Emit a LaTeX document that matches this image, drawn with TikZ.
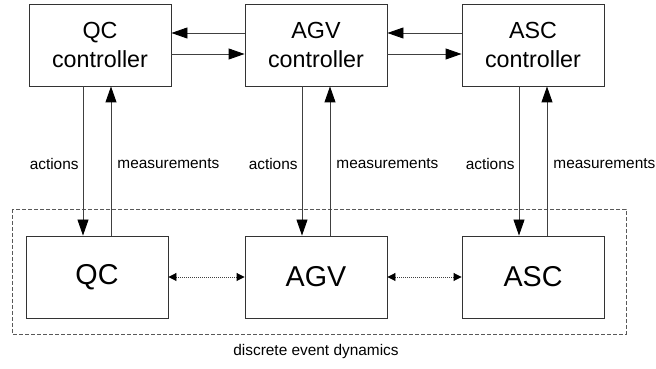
\documentclass[tikz,border=0pt]{standalone}
\usepackage{fontspec}
\setmainfont{Liberation Sans}
\usetikzlibrary{arrows.meta}

\tikzset{
	ctrl/.style={draw=black!80, line width=0.9pt, minimum width=142pt, minimum height=82pt,
		align=center, inner sep=0pt, font=\fontsize{23.3}{29}\selectfont},
	plant/.style={draw=black!80, line width=0.9pt, minimum width=142pt, minimum height=82pt,
		inner sep=0pt, font=\fontsize{28.7}{34}\selectfont},
	sig/.style={draw=black!75, line width=0.9pt, -{Triangle[length=16pt,width=11pt,color=black]}},
	link/.style={draw=black!75, line width=0.9pt, dash pattern=on 1pt off 1pt,
		{Triangle[length=8pt,width=8pt,color=black]}-{Triangle[length=8pt,width=8pt,color=black]}},
	lbl/.style={font=\fontsize{15.4}{18}\selectfont, inner sep=0pt}
}

\begin{document}
\begin{tikzpicture}[x=1pt, y=1pt]

	\useasboundingbox (0,0) rectangle (656,369);

	% controllers
	\node[ctrl] (qcc) at (100, 324) {QC\\controller};
	\node[ctrl] (agvc) at (316, 324) {AGV\\controller};
	\node[ctrl] (ascc) at (533, 324) {ASC\\controller};

	% equipment
	\node[plant] (qc) at (97, 92) {QC};
	\node[plant] (agv) at (316, 92) {AGV};
	\node[plant] (asc) at (533, 92) {ASC};

	% plant boundary
	\draw[black!65, line width=0.8pt, dash pattern=on 4pt off 2pt] (12, 160) rectangle (626, 35);
	\node[lbl] (dyn) at (316, 17) {discrete event dynamics};

	% controller coordination
	\draw[sig] ([yshift=12pt]agvc.west) -- ([yshift=12pt]qcc.east);
	\draw[sig] ([yshift=-9pt]qcc.east) -- ([yshift=-9pt]agvc.west);
	\draw[sig] ([yshift=12pt]ascc.west) -- ([yshift=12pt]agvc.east);
	\draw[sig] ([yshift=-9pt]agvc.east) -- ([yshift=-9pt]ascc.west);

	% actions and measurements
	\draw[sig] ([xshift=-14pt]qc.north |- qcc.south) -- ([xshift=-14pt]qc.north)
		node[lbl, pos=0.52, left=4pt] {actions};
	\draw[sig] ([xshift=14pt]qc.north) -- ([xshift=14pt]qc.north |- qcc.south)
		node[lbl, pos=0.48, right=6pt] {measurements};

	\draw[sig] ([xshift=-14pt]agv.north |- agvc.south) -- ([xshift=-14pt]agv.north)
		node[lbl, pos=0.52, left=4pt] {actions};
	\draw[sig] ([xshift=14pt]agv.north) -- ([xshift=14pt]agv.north |- agvc.south)
		node[lbl, pos=0.48, right=6pt] {measurements};

	\draw[sig] ([xshift=-14pt]asc.north |- ascc.south) -- ([xshift=-14pt]asc.north)
		node[lbl, pos=0.52, left=4pt] {actions};
	\draw[sig] ([xshift=14pt]asc.north) -- ([xshift=14pt]asc.north |- ascc.south)
		node[lbl, pos=0.48, right=6pt] {measurements};

	% interactions between equipment
	\draw[link] (qc) -- (agv);
	\draw[link] (agv) -- (asc);

\end{tikzpicture}
\end{document}
